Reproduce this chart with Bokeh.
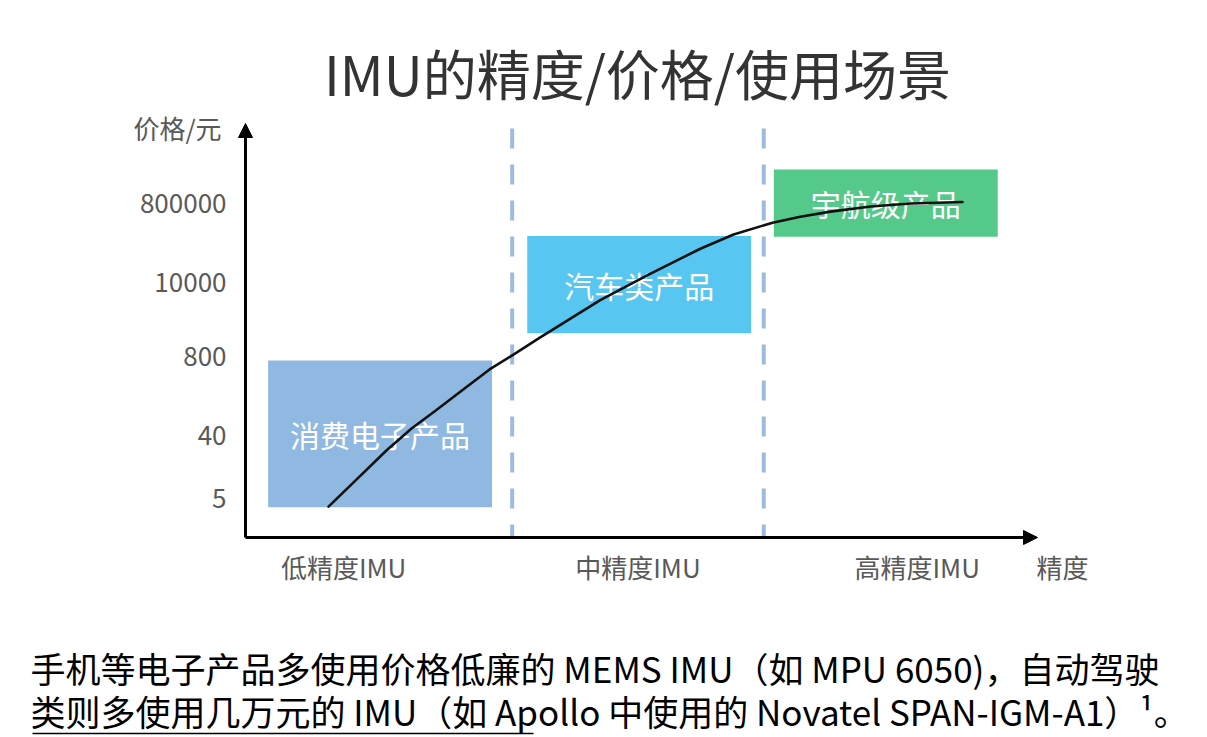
from bokeh.plotting import figure
from bokeh.models import Range1d, Label, Arrow, NormalHead
from bokeh.core.properties import value
from bokeh.embed import file_html
from bokeh.resources import INLINE

# ---------------- data ----------------
title_text = "IMU的精度/价格/使用场景"
y_axis_name = "价格/元"
x_axis_name = "精度"

precision_labels = ["低精度IMU", "中精度IMU", "高精度IMU"]
precision_label_pos = [0.33, 1.50, 2.61]
segment_bounds = [1.0, 2.0]

price_ticks = ["5", "40", "800", "10000", "800000"]
price_levels = [0.0, 0.85, 1.92, 2.93, 4.0]

products = ["消费电子产品", "汽车类产品", "宇航级产品"]
prod_left = [0.03, 1.06, 2.04]
prod_right = [0.92, 1.95, 2.93]
prod_bottom = [-0.12, 2.24, 3.55]
prod_top = [1.87, 3.56, 4.46]
prod_colors = ["#8fb9e1", "#57c6f1", "#55c98a"]

curve_x = [0.27, 0.385, 0.50, 0.60, 0.695, 0.795, 0.91, 1.005, 1.11, 1.35, 1.55, 1.75, 1.88,
           2.035, 2.145, 2.265, 2.425, 2.585, 2.79]
curve_y = [-0.11, 0.27, 0.65, 0.95, 1.19, 1.45, 1.75, 1.95, 2.18, 2.69, 3.05, 3.39, 3.58,
           3.74, 3.82, 3.89, 3.96, 4.00, 4.02]

caption_line1 = "手机等电子产品多使用价格低廉的 MEMS IMU（如 MPU 6050)，自动驾驶"
caption_line2 = "类则多使用几万元的 IMU（如 Apollo 中使用的 Novatel SPAN-IGM-A1）¹。"

# ---------------- layout helpers (pixel -> data) ----------------
W, H = 1207, 737
AX_L, AX_R, AX_B = 245, 1040, 537   # axis origin / extent in pixels
X0, X1 = -0.06, 3.10                # data at AX_L / AX_R
XU = (AX_R - AX_L) / (X1 - X0)
Y0 = -0.529                         # data at AX_B
YU = 73.75                          # pixels per level


def px(xp):
    return X0 + (xp - AX_L) / XU


def py(yp):
    return Y0 + (AX_B - yp) / YU


FONT = "Noto Sans CJK SC"
GREY = "#595959"

p = figure(width=W, height=H, x_range=Range1d(px(0), px(W)), y_range=Range1d(py(H), py(0)),
           output_backend="svg", toolbar_location=None,
           x_axis_location=None, y_axis_location=None, min_border=0)
p.outline_line_color = None
p.grid.visible = False
p.background_fill_color = "white"
p.border_fill_color = "white"

# boxes
p.quad(left=prod_left, right=prod_right, bottom=prod_bottom, top=prod_top,
       fill_color=prod_colors, line_color=None)
cx = [(a + b) / 2 for a, b in zip(prod_left, prod_right)]
cy = [(a + b) / 2 for a, b in zip(prod_bottom, prod_top)]
p.text(x=cx, y=cy, text=products, text_color="white", text_font=value(FONT),
       text_font_size="30px", text_align="center", text_baseline="middle")

# dashed separators
p.segment(x0=segment_bounds, y0=[py(128)] * len(segment_bounds),
          x1=segment_bounds, y1=[Y0] * len(segment_bounds),
          line_color="#9dbcdd", line_width=4, line_dash="20 16")

# curve
p.line(curve_x, curve_y, line_color="#111111", line_width=2.6, line_join="round", line_cap="round")

# tick labels
p.text(x=[px(226)] * len(price_levels), y=price_levels, text=price_ticks,
       text_color=GREY, text_font=value(FONT), text_font_size="26px",
       text_align="right", text_baseline="middle")
p.text(x=precision_label_pos, y=[py(566)] * len(precision_label_pos), text=precision_labels,
       text_color=GREY, text_font=value(FONT), text_font_size="26px",
       text_align="center", text_baseline="middle")

# axes with arrows
p.add_layout(Arrow(end=NormalHead(size=14, fill_color="black", line_color="black"),
                   x_start=X0, y_start=Y0, x_end=px(1037), y_end=Y0,
                   line_color="black", line_width=3))
p.add_layout(Arrow(end=NormalHead(size=14, fill_color="black", line_color="black"),
                   x_start=X0, y_start=Y0, x_end=X0, y_end=py(123),
                   line_color="black", line_width=3))

# texts
p.add_layout(Label(x=px(637), y=py(72), text=title_text, text_font=FONT, text_font_size="54px",
                   text_color="#333333", text_align="center", text_baseline="middle"))
p.add_layout(Label(x=px(177), y=py(127), text=y_axis_name, text_font=FONT, text_font_size="26px",
                   text_color=GREY, text_align="center", text_baseline="middle"))
p.add_layout(Label(x=px(1062), y=py(566), text=x_axis_name, text_font=FONT, text_font_size="26px",
                   text_color=GREY, text_align="center", text_baseline="middle"))
p.add_layout(Label(x=px(30), y=py(667), text=caption_line1, text_font=FONT, text_font_size="35px",
                   text_color="black", text_align="left", text_baseline="middle"))
p.add_layout(Label(x=px(30), y=py(710), text=caption_line2, text_font=FONT, text_font_size="35px",
                   text_color="black", text_align="left", text_baseline="middle"))
p.add_layout(Arrow(end=None, x_start=px(32), y_start=py(733), x_end=px(533), y_end=py(733),
                   line_color="black", line_width=1.5))

open("out.html", "w").write(file_html(p, INLINE))
